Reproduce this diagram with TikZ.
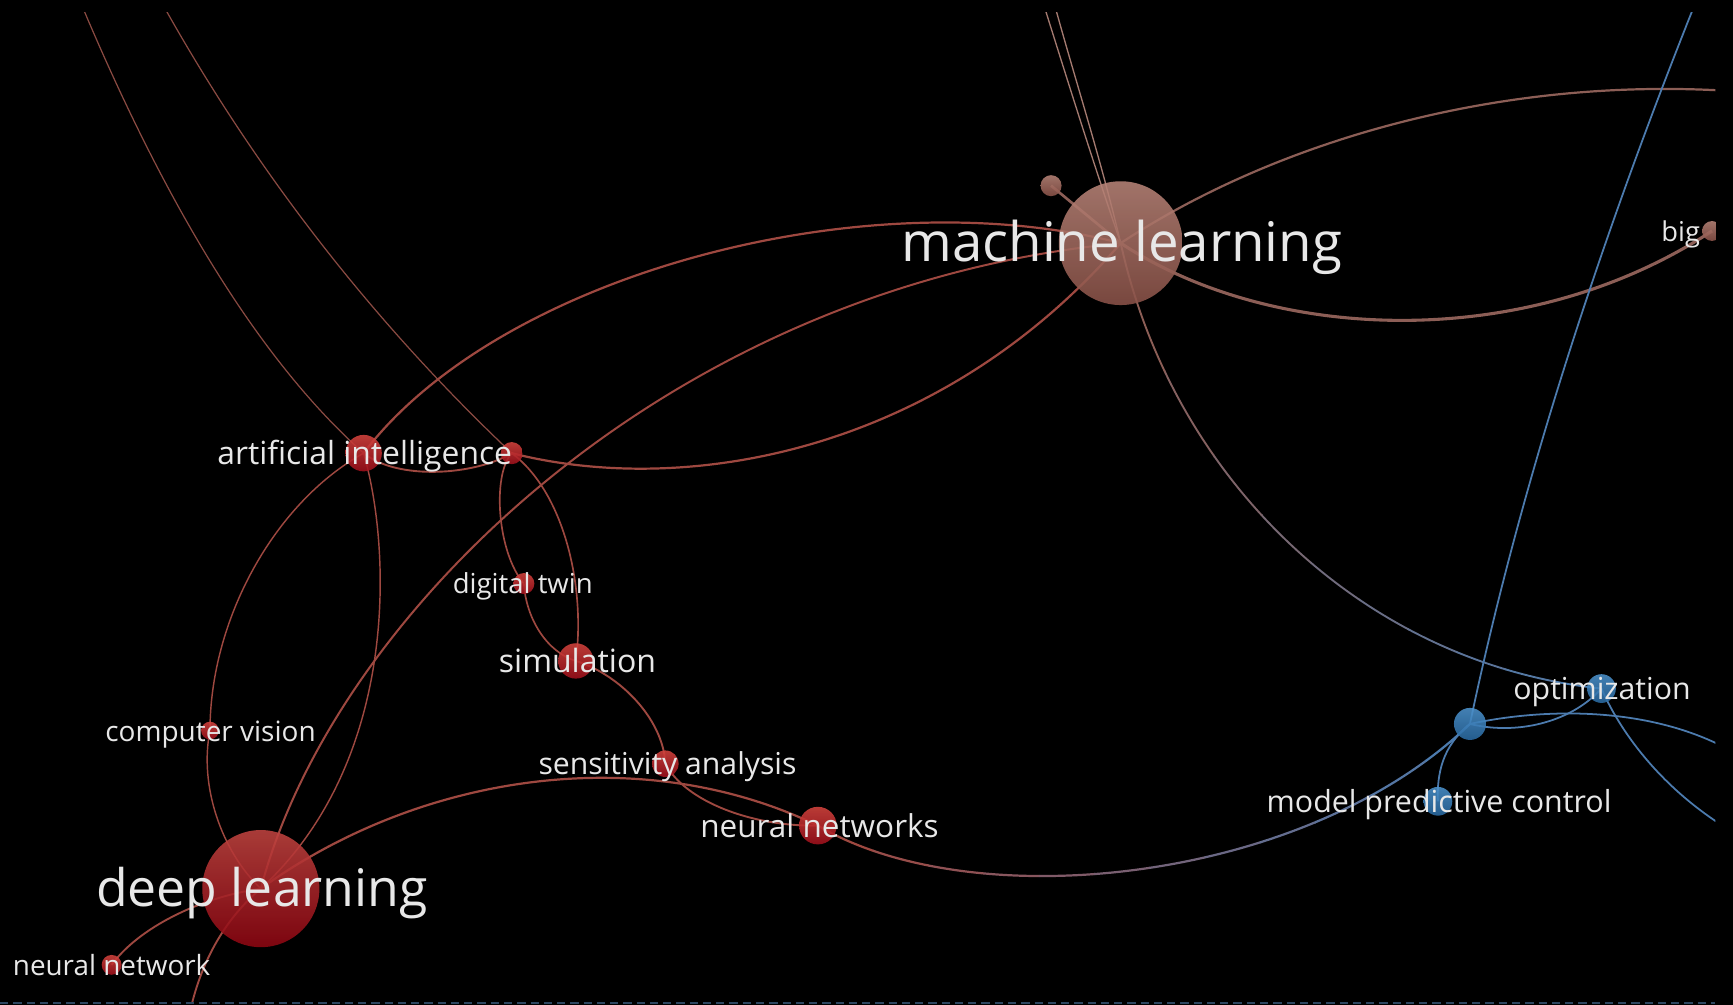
\documentclass[tikz,border=0pt]{standalone}
\usepackage{fontspec}
\setmainfont{Open Sans}
\usetikzlibrary{shadings}
\definecolor{redE}{HTML}{9E4840}
\definecolor{redThin}{HTML}{8A4A42}
\definecolor{nnE}{HTML}{9E4840}
\definecolor{mlE}{HTML}{8C5E56}
\definecolor{mlTopE}{HTML}{A47A70}
\definecolor{blueE}{HTML}{4C7BAE}
\definecolor{labc}{HTML}{E8E8E8}
\definecolor{dashc}{HTML}{2C4660}
\definecolor{rTop}{HTML}{D4443E}
\definecolor{rBot}{HTML}{A0101C}
\definecolor{dTop}{HTML}{C04440}
\definecolor{dBot}{HTML}{8E0612}
\definecolor{mTop}{HTML}{B88478}
\definecolor{mBot}{HTML}{8A5248}
\definecolor{bTop}{HTML}{4C92CC}
\definecolor{bBot}{HTML}{2A6AA2}
\pgfdeclarelayer{bg}
\pgfsetlayers{bg,main}
\tikzset{
 vnode/.style={circle, inner sep=0pt, fill opacity=0.88, draw=none},
 rednode/.style={vnode, top color=rTop, bottom color=rBot},
 dlnode/.style={vnode, top color=dTop, bottom color=dBot},
 mlnode/.style={vnode, top color=mTop, bottom color=mBot},
 bluenode/.style={vnode, top color=bTop, bottom color=bBot},
 lab/.style={text=labc, inner sep=0pt, anchor=base},
 redge/.style={draw=redE, line width=1.7pt},
 thinedge/.style={draw=redThin, line width=1.1pt},
 mledge/.style={draw=mlE, line width=2pt},
 topedge/.style={draw=mlTopE, line width=1.2pt},
 bedge/.style={draw=blueE, line width=1.6pt},
}
\begin{document}
\begin{tikzpicture}[x=1pt,y=-1pt]
\useasboundingbox (0,0) rectangle (1568,909);
% nodes
\begin{scope}
\clip (0,11) rectangle (1552,906);
\node[mlnode, minimum size=112pt] (ml) at (1014,220) {};
\node[mlnode, minimum size=19pt] (mls) at (951,168) {};
\node[mlnode, minimum size=18pt] (big) at (1549,209) {};
\node[rednode, minimum size=33pt] (ai) at (329,410) {};
\node[rednode, minimum size=20pt] (ai2) at (463,410) {};
\node[rednode, minimum size=19pt] (dt) at (474,528) {};
\node[rednode, minimum size=32pt] (sim) at (521,598) {};
\node[rednode, minimum size=16pt] (cv) at (190,661) {};
\node[rednode, minimum size=24pt] (sa) at (602,691) {};
\node[rednode, minimum size=34pt] (nn) at (740,747) {};
\node[dlnode, minimum size=106pt] (dl) at (236,804) {};
\node[rednode, minimum size=18pt] (nnet) at (101,873) {};
\node[bluenode, minimum size=26pt] (opt) at (1449,623) {};
\node[bluenode, minimum size=29pt] (bn) at (1330,655) {};
\node[bluenode, minimum size=26pt] (mpc) at (1301,725) {};
% labels
\node[lab, font=\fontsize{49.4}{50}\selectfont] (mlL) at (1015,237) {machine learning};
\node[lab, font=\fontsize{46.8}{47}\selectfont] (dlL) at (237,820) {deep learning};
\node[lab, font=\fontsize{28.8}{29}\selectfont] (aiL) at (330,420.3) {artificial intelligence};
\node[lab, font=\fontsize{29}{29}\selectfont] (simL) at (522.5,608.7) {simulation};
\node[lab, font=\fontsize{28.5}{29}\selectfont] (nnL) at (741.5,757.5) {neural networks};
\node[lab, font=\fontsize{27.3}{28}\selectfont] (saL) at (604,701.2) {sensitivity analysis};
\node[lab, font=\fontsize{27.5}{28}\selectfont] (mpcL) at (1302,735.3) {model predictive control};
\node[lab, font=\fontsize{27.4}{28}\selectfont] (optL) at (1449.5,633.2) {optimization};
\node[lab, font=\fontsize{25.3}{26}\selectfont] (cvL) at (190.5,670.6) {computer vision};
\node[lab, font=\fontsize{24.9}{25}\selectfont] (dtL) at (473,537.3) {digital twin};
\node[lab, font=\fontsize{25.2}{25}\selectfont] (nnetL) at (101,882.5) {neural network};
\node[lab, anchor=base west, font=\fontsize{24.7}{25}\selectfont] (bigL) at (1503,218.4) {big};
\end{scope}
% free ends
\coordinate (t1) at (72,0);
\coordinate (t2) at (145,0);
\coordinate (t3) at (943,0);
\coordinate (t4) at (953,0);
\coordinate (tb) at (1535,0);
\coordinate (ur) at (1560,82);
\coordinate (er1) at (1560,676);
\coordinate (er2) at (1560,748);
\coordinate (dlb) at (170,925);
\begin{pgfonlayer}{bg}
\fill[black] (0,0) rectangle (1568,909);
\begin{scope}
\clip (0,11) rectangle (1552,906);
\draw[thinedge] (t1) .. controls (152,191) and (237,328) .. (ai.center);
\draw[thinedge] (t2) .. controls (230,153) and (336,290) .. (ai2.center);
\draw[redge, line width=2pt] (ai.center) .. controls (450,250) and (780,160) .. (ml.center);
\draw[redge, line width=1.8pt] (dl.center) .. controls (300,560) and (600,260) .. (ml.center);
\draw[redge, line width=2pt] (ai2.center) .. controls (620,450) and (850,410) .. (ml.center);
\draw[redge] (ai.center) .. controls (360,435) and (430,430) .. (ai2.center);
\draw[redge, line width=1.5pt] (ai2.center) .. controls (510,445) and (530,530) .. (sim.center);
\draw[redge, line width=1.5pt] (ai2.center) .. controls (445,430) and (450,500) .. (dt.center);
\draw[redge, line width=1.5pt] (dt.center) .. controls (476,560) and (495,590) .. (sim.center);
\draw[redge, line width=1.3pt] (ai.center) .. controls (248,455) and (190,561) .. (cv.center);
\draw[redge, line width=1.3pt] (cv.center) .. controls (180,710) and (200,770) .. (dl.center);
\draw[redge, line width=1.3pt] (ai.center) .. controls (355,500) and (360,690) .. (dl.center);
\draw[redge, line width=2pt] (dl.center) .. controls (380,700) and (580,670) .. (nn.center);
\draw[redge] (sim.center) .. controls (560,610) and (600,650) .. (sa.center);
\draw[redge] (sa.center) .. controls (620,725) and (680,748) .. (nn.center);
\draw[redge] (dl.center) .. controls (180,812) and (125,840) .. (nnet.center);
\draw[redge] (dl.center) .. controls (205,830) and (180,870) .. (dlb);
\foreach \i in {0,...,11} {
  \pgfmathtruncatemacro\p{\i*100/11}
  \pgfmathsetmacro\xa{740+\i*50}
  \pgfmathsetmacro\xb{\xa+50.5}
  \begin{scope}
    \clip (\xa,0) rectangle (\xb,909);
    \draw[line width=2pt, draw=blueE!\p!nnE] (nn.center) .. controls (880,830) and (1180,800) .. (bn.center);
  \end{scope}
}
\foreach \i in {0,...,9} {
  \pgfmathtruncatemacro\p{\i*100/9}
  \pgfmathsetmacro\xa{1010+\i*44}
  \pgfmathsetmacro\xb{\xa+44.5}
  \begin{scope}
    \clip (\xa,0) rectangle (\xb,909);
    \draw[line width=1.7pt, draw=blueE!\p!mlE] (ml.center) .. controls (1060,430) and (1230,600) .. (opt.center);
  \end{scope}
}
\draw[topedge] (t3) .. controls (965,70) and (990,150) .. (ml.center);
\draw[topedge] (t4) .. controls (972,70) and (995,140) .. (ml.center);
\draw[mledge, line width=2.4pt] (mls.center) -- (ml.center);
\draw[mledge] (ml.center) .. controls (1150,130) and (1350,70) .. (ur);
\draw[mledge, line width=2.8pt] (ml.center) .. controls (1150,310) and (1380,320) .. (big.center);
\draw[bedge] (tb) .. controls (1440,237) and (1372,455) .. (bn.center);
\draw[bedge] (bn.center) .. controls (1370,665) and (1420,655) .. (opt.center);
\draw[bedge] (bn.center) .. controls (1400,640) and (1490,640) .. (er1);
\draw[bedge] (opt.center) .. controls (1465,660) and (1500,710) .. (er2);
\draw[bedge] (bn.center) .. controls (1305,675) and (1300,700) .. (mpc.center);
\end{scope}
\draw[dashc, line width=2pt, dash pattern=on 7.5pt off 4.5pt] (0,907.5) -- (1552,907.5);
\end{pgfonlayer}
\end{tikzpicture}
\end{document}
